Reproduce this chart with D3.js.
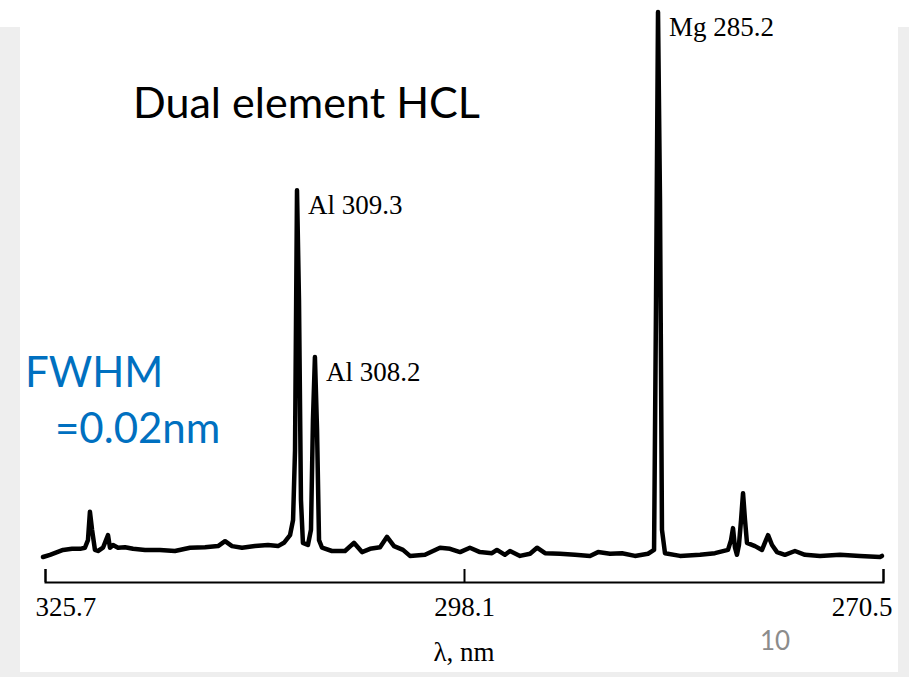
<!DOCTYPE html>
<html lang="en">
<head>
    <meta charset="UTF-8">
    <title>Dual element HCL</title>
    <script src="https://cdn.jsdelivr.net/npm/d3@7"></script>
    <style>
        body { margin: 0; background: #ffffff; }
    </style>
</head>
<body>
<script>
    // spectrum: wavelength (nm) and relative intensity
    var wavelength = [325.83, 325.37, 324.51, 323.92, 323.39, 323.07, 322.87, 322.74, 322.60, 322.41,
        322.21, 321.88, 321.68, 321.55, 321.42, 321.22, 320.89, 320.43, 319.90, 319.11,
        318.13, 317.14, 316.15, 315.16, 314.30, 313.84, 313.38, 312.72, 311.87, 311.01,
        310.35, 309.96, 309.56, 309.36, 309.23, 309.10, 308.97, 308.84, 308.71, 308.38,
        308.18, 308.05, 307.92, 307.78, 307.65, 307.45, 306.80, 305.94, 305.35, 304.82,
        304.29, 303.63, 303.17, 302.71, 302.12, 301.66, 300.67, 299.68, 299.02, 298.36,
        297.71, 297.05, 296.26, 295.93, 295.40, 295.07, 294.41, 293.75, 293.29, 292.76,
        291.78, 290.79, 289.80, 289.27, 288.48, 287.69, 286.84, 285.98, 285.58, 285.45,
        285.32, 285.19, 285.06, 284.86, 283.87, 282.55, 281.57, 280.71, 280.51, 280.38,
        280.25, 280.12, 279.99, 279.85, 279.72, 279.59, 279.46, 278.93, 278.47, 278.21,
        278.07, 277.81, 277.48, 276.96, 276.30, 275.64, 274.65, 273.33, 272.02, 270.70, 270.57];
    var intensity = [0.0, 0.4, 1.3, 1.5, 1.5, 1.7, 3.1, 8.3, 5.0, 1.3,
        1.1, 1.7, 3.1, 4.0, 1.7, 2.2, 1.7, 1.8, 1.5, 1.3,
        1.3, 1.1, 1.7, 1.8, 2.0, 2.9, 2.0, 1.7, 2.0, 2.2,
        2.0, 2.6, 4.0, 6.8, 19.6, 67.3, 47.2, 10.5, 2.6, 2.2,
        5.0, 25.1, 36.7, 23.3, 3.1, 1.7, 1.1, 1.1, 2.6, 0.9,
        1.5, 1.8, 3.7, 2.0, 1.3, 0.2, 0.4, 1.7, 1.5, 0.9,
        1.7, 0.9, 0.7, 1.3, 0.4, 1.1, 0.2, 0.6, 1.7, 0.7,
        0.6, 0.4, 0.2, 0.9, 0.6, 0.7, 0.2, 0.6, 1.3, 47.2,
        100, 65.5, 5.0, 0.7, 0.2, 0.4, 0.7, 1.3, 3.1, 5.3,
        1.7, 0.4, 2.2, 6.8, 11.7, 6.8, 2.6, 2.0, 1.3, 3.1,
        4.0, 2.2, 0.9, 0.4, 1.1, 0.4, 0.2, 0.4, 0.2, 0.0, 0.2];

    var peakLabels = ["Al 309.3", "Al 308.2", "Mg 285.2"];
    var peakNm = [309.10, 307.92, 285.32];
    var peakHeight = [67.3, 36.7, 100];

    var tickValues = [325.7, 298.1, 270.5];
    var tickLabels = ["325.7", "298.1", "270.5"];

    var w = 909, h = 677;

    var svg = d3.select("body").append("svg")
        .attr("width", w)
        .attr("height", h);

    // slide background: light grey frame around a white page
    svg.append("rect").attr("width", w).attr("height", h).attr("fill", "#eeeeee");
    svg.append("rect").attr("x", 0).attr("y", 0).attr("width", w).attr("height", 27).attr("fill", "#ffffff");
    svg.append("rect").attr("x", 20).attr("y", 0).attr("width", 878).attr("height", 672).attr("fill", "#ffffff");

    var x = d3.scaleLinear().domain([325.7, 270.5]).range([45, 883]);
    var y = d3.scaleLinear().domain([0, 100]).range([557, 12]);

    var points = wavelength.map(function (d, i) { return [d, intensity[i]]; });

    var line = d3.line()
        .x(function (d) { return x(d[0]); })
        .y(function (d) { return y(d[1]); });

    svg.append("path")
        .datum(points)
        .attr("d", line)
        .attr("fill", "none")
        .attr("stroke", "#000")
        .attr("stroke-width", 4.5)
        .attr("stroke-linejoin", "round")
        .attr("stroke-linecap", "round");

    // axis with ticks pointing up
    var axis = d3.axisBottom(x)
        .tickValues(tickValues)
        .tickFormat(function (d, i) { return tickLabels[i]; })
        .tickSize(-13);

    var gx = svg.append("g")
        .attr("transform", "translate(0,582)")
        .call(axis);
    gx.select(".domain").attr("stroke", "#000").attr("stroke-width", 2);
    gx.selectAll(".tick line").attr("stroke", "#000").attr("stroke-width", 2);
    gx.selectAll(".tick text")
        .attr("y", 34)
        .attr("dy", null)
        .attr("font-family", "'Liberation Serif', serif")
        .attr("font-size", 27)
        .attr("fill", "#000")
        .attr("text-anchor", function (d, i) { return i === 0 ? "start" : (i === 2 ? "end" : "middle"); })
        .attr("x", function (d, i) { return i === 0 ? -10 : (i === 2 ? 9 : 0); });

    svg.append("text")
        .attr("x", 464)
        .attr("y", 661)
        .attr("text-anchor", "middle")
        .attr("font-family", "'Liberation Serif', serif")
        .attr("font-size", 27)
        .text("λ, nm");

    // peak labels
    svg.selectAll(".peak")
        .data(peakLabels)
        .enter()
        .append("text")
        .attr("class", "peak")
        .attr("x", function (d, i) { return x(peakNm[i]) + 11; })
        .attr("y", function (d, i) { return y(peakHeight[i]) + 24; })
        .attr("font-family", "'Liberation Serif', serif")
        .attr("font-size", 27)
        .text(function (d) { return d; });

    // slide texts
    svg.append("text")
        .attr("x", 133)
        .attr("y", 118)
        .attr("font-family", "Lato, sans-serif")
        .attr("font-size", 43)
        .attr("textLength", 347)
        .attr("lengthAdjust", "spacingAndGlyphs")
        .text("Dual element HCL");

    svg.append("text")
        .attr("x", 25)
        .attr("y", 387)
        .attr("font-family", "Lato, sans-serif")
        .attr("font-size", 42)
        .attr("fill", "#0070c0")
        .text("FWHM");

    svg.append("text")
        .attr("x", 55)
        .attr("y", 443)
        .attr("font-family", "Lato, sans-serif")
        .attr("font-size", 42)
        .attr("fill", "#0070c0")
        .text("=0.02nm");

    svg.append("text")
        .attr("x", 775)
        .attr("y", 650)
        .attr("text-anchor", "middle")
        .attr("font-family", "Lato, sans-serif")
        .attr("font-size", 26)
        .attr("fill", "#8c8c8c")
        .text("10");
</script>
</body>
</html>
